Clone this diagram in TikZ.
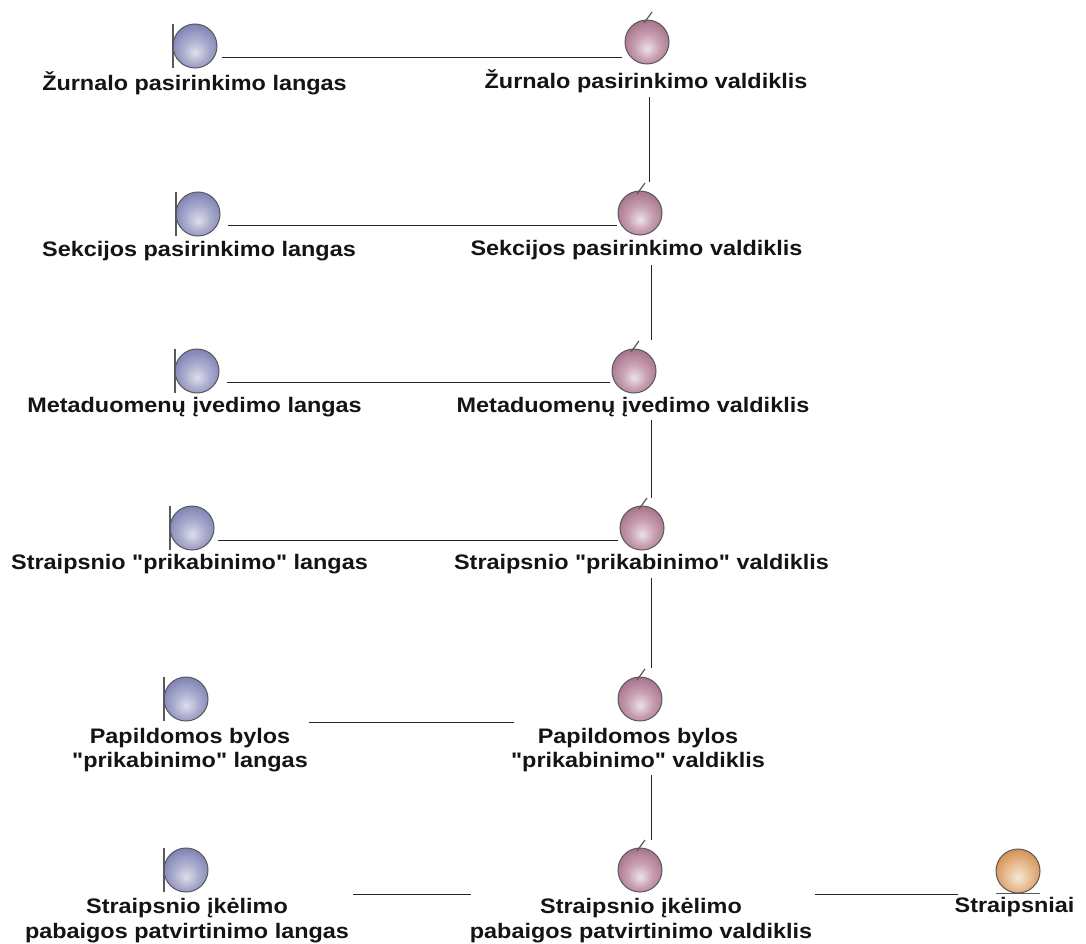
\documentclass[tikz,border=0pt]{standalone}
\usepackage{fontspec}
\setmainfont{Liberation Sans}[Ligatures=TeXOff, FakeStretch=1.115]
\definecolor{boundaryhi}{HTML}{DEDEEA}
\definecolor{boundarymid}{HTML}{ABADCE}
\definecolor{boundarylo}{HTML}{7A7EB2}
\definecolor{controlhi}{HTML}{ECE2E6}
\definecolor{controlmid}{HTML}{C8A0B2}
\definecolor{controllo}{HTML}{A46E88}
\definecolor{entityhi}{HTML}{F4E8D8}
\definecolor{entitymid}{HTML}{E9BE94}
\definecolor{entitylo}{HTML}{D18C4C}
\pgfdeclareradialshading{boundaryshade}{\pgfpoint{0bp}{-8bp}}{color(0bp)=(boundaryhi); color(14bp)=(boundarymid); color(30bp)=(boundarylo); color(50bp)=(boundarylo)}
\pgfdeclareradialshading{controlshade}{\pgfpoint{0bp}{-8bp}}{color(0bp)=(controlhi); color(14bp)=(controlmid); color(30bp)=(controllo); color(50bp)=(controllo)}
\pgfdeclareradialshading{entityshade}{\pgfpoint{0bp}{-8bp}}{color(0bp)=(entityhi); color(14bp)=(entitymid); color(30bp)=(entitylo); color(50bp)=(entitylo)}
\tikzset{
    iconball/.style={circle, draw=black!65, line width=1pt, inner sep=0pt, minimum size=44pt},
    boundaryball/.style={iconball, shading=boundaryshade},
    controlball/.style={iconball, shading=controlshade},
    entityball/.style={iconball, shading=entityshade},
    iconmark/.style={draw=black!65, line width=1.2pt},
    caption/.style={align=center, inner sep=0pt, text=black!92, font=\fontsize{21}{24.5}\selectfont\bfseries},
    assoc/.style={draw=black!85, line width=1pt}
}
\begin{document}
\begin{tikzpicture}[x=1pt, y=-1pt]
    \useasboundingbox[fill=white] (0,0) rectangle (1086,944);
    % Boundary and control icons, row by row
    \foreach \r/\bx/\by/\cx/\cy in {1/195/46/647/42, 2/198/214/640/213, 3/197/371/634/371, 4/192/528/642/528, 5/186/699/640/699, 6/186/870/640/870} {
            \node[boundaryball] (b\r) at (\bx,\by) {};
            \node[controlball] (c\r) at (\cx,\cy) {};
            \draw[iconmark] ([xshift=-22pt, yshift=22pt]b\r.center) -- ([xshift=-22pt, yshift=-22pt]b\r.center);
            \draw[iconmark] ([xshift=-3pt, yshift=19pt]c\r.center) -- ([xshift=5pt, yshift=30pt]c\r.center);
        }
    % Entity icon
    \node[entityball] (e6) at (1018,871) {};
    \draw[iconmark] ([xshift=-22pt]e6.south) -- ([xshift=22pt]e6.south);
    % Captions of the left column
    \node[caption] (lb1) at (194.5,83) {Žurnalo pasirinkimo langas};
    \node[caption] (lb2) at (199,251) {Sekcijos pasirinkimo langas};
    \node[caption] (lb3) at (194.5,407) {Metaduomenų įvedimo langas};
    \node[caption] (lb4) at (189.5,564) {Straipsnio "prikabinimo" langas};
    \node[caption] (lb5) at (190,750) {Papildomos bylos\\"prikabinimo" langas};
    \node[caption] (lb6) at (187,920.5) {Straipsnio įkėlimo\\pabaigos patvirtinimo langas};
    % Captions of the right column
    \node[caption] (lc1) at (646,81) {Žurnalo pasirinkimo valdiklis};
    \node[caption] (lc2) at (636.5,250) {Sekcijos pasirinkimo valdiklis};
    \node[caption] (lc3) at (633,407) {Metaduomenų įvedimo valdiklis};
    \node[caption] (lc4) at (641.5,564) {Straipsnio "prikabinimo" valdiklis};
    \node[caption] (lc5) at (638,750) {Papildomos bylos\\"prikabinimo" valdiklis};
    \node[caption] (lc6) at (641,920.5) {Straipsnio įkėlimo\\pabaigos patvirtinimo valdiklis};
    \node[caption] (le6) at (1014.5,907) {Straipsniai};
    % Free ends of the horizontal lines
    \foreach \r/\xa/\xb/\ly in {1/222/622/58, 2/228/617/225, 3/227/610/382, 4/218/618/540, 5/309/514/722, 6/353/471/894} {
            \coordinate (hl\r) at (\xa,\ly);
            \coordinate (hr\r) at (\xb,\ly);
            \draw[assoc] (hl\r) -- (hr\r);
        }
    \coordinate (hr7) at (815,894);
    \coordinate (hl7) at (958,894);
    \draw[assoc] (hr7) -- (hl7);
    % Free ends of the vertical lines
    \foreach \r/\vx/\ya/\yb in {1/649/97/182, 2/651/265/340, 3/651/420/498, 4/651/578/668, 5/651/775/840} {
            \coordinate (vt\r) at (\vx,\ya);
            \coordinate (vb\r) at (\vx,\yb);
            \draw[assoc] (vt\r) -- (vb\r);
        }
\end{tikzpicture}
\end{document}
